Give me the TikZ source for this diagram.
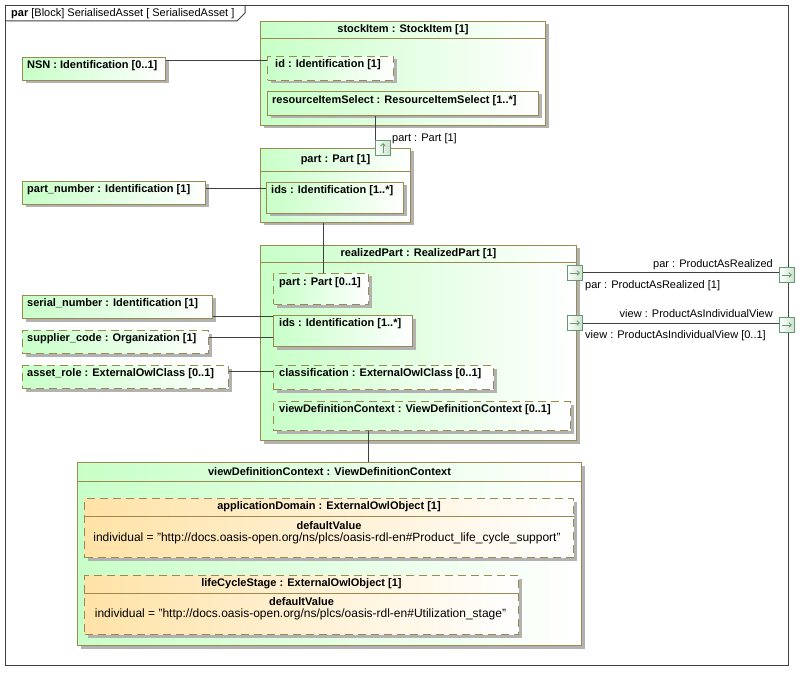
\documentclass[tikz,border=0pt]{standalone}
\usepackage{fontspec}
\setmainfont{Liberation Sans}
\usetikzlibrary{shadows,arrows.meta,calc}
\definecolor{bord}{HTML}{9B8A50}
\definecolor{grn}{HTML}{C8FFC8}
\definecolor{org}{HTML}{FFE2A6}
\definecolor{frm}{HTML}{404040}
\definecolor{portc}{HTML}{5E9E6E}
\definecolor{portf}{HTML}{CFE0CF}
\tikzset{
 shad/.style={drop shadow={shadow xshift=3pt,shadow yshift=-3pt,fill=black!30,opacity=1}},
 gbox/.style={draw=bord, line width=1pt, left color=grn, right color=white, shad, inner sep=0pt},
 obox/.style={draw=bord, line width=1pt, left color=org, right color=white, shad, inner sep=0pt},
 dsh/.style={dash pattern=on 8pt off 5pt},
 conn/.style={draw=frm, line width=1pt},
 hline/.style={draw=bord, line width=1pt},
 txt/.style={inner sep=0pt, font=\fontsize{11}{13}\selectfont},
 vtxt/.style={inner sep=0pt, font=\fontsize{12}{14}\selectfont},
 btxt/.style={inner sep=0pt, font=\fontsize{11}{13}\selectfont\bfseries},
 port/.style={draw=portc, line width=1pt, left color=white, right color=portf, inner sep=0pt, minimum width=15pt, minimum height=15pt, anchor=north west},
 parrow/.style={draw=portc, line width=0.8pt, -{Straight Barb[length=2.5pt,width=4.5pt]}},
}
\newcommand\mkbox[6]{\node[#2, anchor=north west, minimum width={#5-#3}, minimum height={#6-#4}] (#1) at (#3,#4) {};}
\begin{document}
\begin{tikzpicture}[x=1pt,y=-1pt]
\useasboundingbox (0,0) rectangle (809,679);
\fill[white] (0,0) rectangle (809,679);
% frame
\node[draw=frm, line width=1pt, anchor=north west, minimum width=783, minimum height=660, inner sep=0pt] (frame) at (5,5) {};
\draw[conn] (5,21) -- (237,21) -- (245,13) -- (245,5);
\node[txt, anchor=west] (ftitle) at (11,13.5) {\textbf{par} [Block] SerialisedAsset [ SerialisedAsset ]};

% stockItem block
\mkbox{stock}{gbox}{260}{21}{545}{125}
\draw[hline] ([yshift=-18pt]stock.north west) -- ([yshift=-18pt]stock.north east);
\node[btxt] (stock-t) at ([yshift=-9pt]stock.north) {stockItem : StockItem [1]};
\mkbox{id}{gbox,dsh}{267}{56}{393}{80}
\node[btxt, anchor=west] (id-t) at ([shift={(8,9)}]id.north west) {id : Identification [1]};
\mkbox{rsel}{gbox}{267}{91}{538}{115}
\node[btxt, anchor=west] (rsel-t) at ([shift={(5,10)}]rsel.north west) {resourceItemSelect : ResourceItemSelect [1..*]};

% part block
\mkbox{part}{gbox}{260}{148}{410}{222}
\draw[hline] ([yshift=-24pt]part.north west) -- ([yshift=-24pt]part.north east);
\node[btxt] (part-t) at ([yshift=-12pt]part.north) {part : Part [1]};
\mkbox{pids}{gbox}{266}{182}{403}{213}
\node[btxt, anchor=west] (pids-t) at ([shift={(5,9)}]pids.north west) {ids : Identification [1..*]};
\node[port] (sport) at (375,140) {};
\draw[parrow] ([yshift=-5pt]sport.center) -- ([yshift=5pt]sport.center);
\node[txt, anchor=west] (sport-l) at (392,139) {part : Part [1]};

% realizedPart block
\mkbox{rp}{gbox}{260}{245}{576}{440}
\draw[hline] ([yshift=-18pt]rp.north west) -- ([yshift=-18pt]rp.north east);
\node[btxt] (rp-t) at ([yshift=-9pt]rp.north) {realizedPart : RealizedPart [1]};
\mkbox{rppart}{gbox,dsh}{273}{273}{368}{304}
\node[btxt, anchor=west] (rppart-t) at ([shift={(6,10)}]rppart.north west) {part : Part [0..1]};
\mkbox{rpids}{gbox}{273}{315}{412}{346}
\node[btxt, anchor=west] (rpids-t) at ([shift={(6,9)}]rpids.north west) {ids : Identification [1..*]};
\mkbox{rpclass}{gbox,dsh}{273}{365}{493}{389}
\node[btxt, anchor=west] (rpclass-t) at ([shift={(6,9)}]rpclass.north west) {classification : ExternalOwlClass [0..1]};
\mkbox{rpvdc}{gbox,dsh}{273}{401}{570}{430}
\node[btxt, anchor=west] (rpvdc-t) at ([shift={(6,8.5)}]rpvdc.north west) {viewDefinitionContext : ViewDefinitionContext [0..1]};
\node[port] (p1) at (567,265) {};
\draw[parrow] ([xshift=-5pt]p1.center) -- ([xshift=5pt]p1.center);
\node[port] (p2) at (567,315) {};
\draw[parrow] ([xshift=-5pt]p2.center) -- ([xshift=5pt]p2.center);
\node[port] (q1) at (779,267) {};
\draw[parrow] ([xshift=-5pt]q1.center) -- ([xshift=5pt]q1.center);
\node[port] (q2) at (779,317) {};
\draw[parrow] ([xshift=-5pt]q2.center) -- ([xshift=5pt]q2.center);
\node[txt, anchor=east] (q1-l) at (773,265) {par : ProductAsRealized};
\node[txt, anchor=west] (p1-l) at (585,286) {par : ProductAsRealized [1]};
\node[txt, anchor=east] (q2-l) at (773,314) {view : ProductAsIndividualView};
\node[txt, anchor=west] (p2-l) at (585,336) {view : ProductAsIndividualView [0..1]};

% left parts
\mkbox{nsn}{gbox}{22}{57}{165}{80}
\node[btxt, anchor=west] (nsn-t) at ([shift={(5,8.5)}]nsn.north west) {NSN : Identification [0..1]};
\mkbox{pnum}{gbox}{22}{181}{205}{204}
\node[btxt, anchor=west] (pnum-t) at ([shift={(5,8.5)}]pnum.north west) {part\_number : Identification [1]};
\mkbox{serial}{gbox}{22}{295}{212}{318}
\node[btxt, anchor=west] (serial-t) at ([shift={(5,8.5)}]serial.north west) {serial\_number : Identification [1]};
\mkbox{supp}{gbox,dsh}{22}{330}{208}{353}
\node[btxt, anchor=west] (supp-t) at ([shift={(5,8.5)}]supp.north west) {supplier\_code : Organization [1]};
\mkbox{asset}{gbox,dsh}{22}{365}{228}{388}
\node[btxt, anchor=west] (asset-t) at ([shift={(5,8.5)}]asset.north west) {asset\_role : ExternalOwlClass [0..1]};

% viewDefinitionContext block
\mkbox{vdc}{gbox}{77}{462}{581}{645}
\draw[hline] ([yshift=-19pt]vdc.north west) -- ([yshift=-19pt]vdc.north east);
\node[btxt] (vdc-t) at ([yshift=-9.5pt]vdc.north) {viewDefinitionContext : ViewDefinitionContext};
\mkbox{appd}{obox,dsh}{84}{498}{573}{557}
\draw[hline] ([yshift=-18pt]appd.north west) -- ([yshift=-18pt]appd.north east);
\node[btxt] (appd-t) at ([yshift=-9pt]appd.north) {applicationDomain : ExternalOwlObject [1]};
\node[btxt] (appd-d) at ([yshift=-28pt]appd.north) {defaultValue};
\node[vtxt] (appd-v) at ([xshift=-2pt,yshift=-40pt]appd.north) {individual = "http://docs.oasis-open.org/ns/plcs/oasis-rdl-en\#Product\_life\_cycle\_support"};
\mkbox{lcs}{obox,dsh}{84}{575}{518}{634}
\draw[hline] ([yshift=-18pt]lcs.north west) -- ([yshift=-18pt]lcs.north east);
\node[btxt] (lcs-t) at ([yshift=-8.5pt]lcs.north) {lifeCycleStage : ExternalOwlObject [1]};
\node[btxt] (lcs-d) at ([yshift=-27pt]lcs.north) {defaultValue};
\node[vtxt] (lcs-v) at ([xshift=-1pt,yshift=-39pt]lcs.north) {individual = "http://docs.oasis-open.org/ns/plcs/oasis-rdl-en\#Utilization\_stage"};

% connectors
\draw[conn] ([yshift=-4pt]nsn.north east) -- ([yshift=-4pt]nsn.north east -| id.west);
\draw[conn] (rsel.south -| sport.north west) -- (sport.north west);
\draw[conn] ([yshift=-8pt]pnum.north east) -- ([yshift=-8pt]pnum.north east -| pids.west);
\draw[conn] ([xshift=2pt]rppart.north |- part.south) -- ([xshift=2pt]rppart.north);
\draw[conn] ([yshift=3pt]serial.south east) -- ([yshift=3pt]serial.south east -| rpids.west);
\draw[conn] ([yshift=-7pt]supp.north east) -- ([yshift=-7pt]supp.north east -| rpids.west);
\draw[conn] ([yshift=-6pt]asset.north east) -- ([yshift=-6pt]asset.north east -| rpclass.west);
\draw[conn] ([xshift=-53.5pt]rpvdc.south) -- ([xshift=-53.5pt]rpvdc.south |- vdc.north);
\draw[conn] (p1.east) -- (p1.east -| q1.west);
\draw[conn] (p2.east) -- (p2.east -| q2.west);
\end{tikzpicture}
\end{document}
